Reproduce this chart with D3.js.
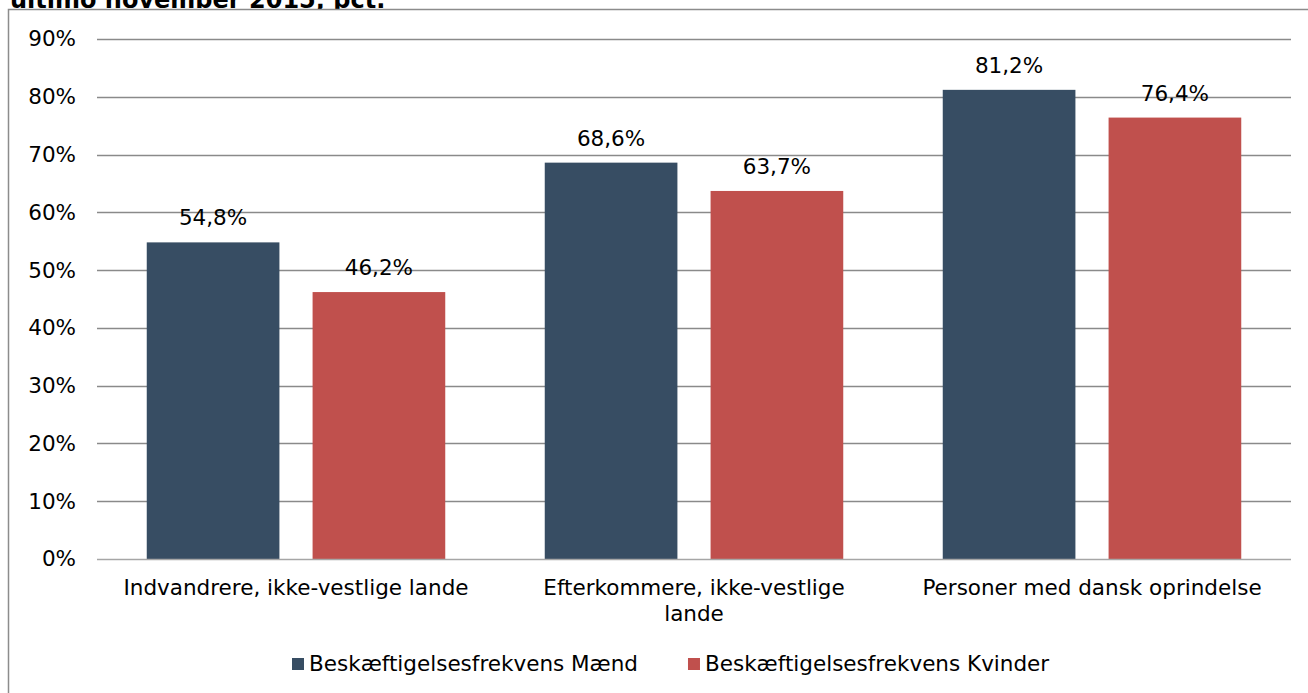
<!DOCTYPE html>
<html>
<head>
<meta charset="utf-8">
<script src="https://cdn.jsdelivr.net/npm/d3@7"></script>
<style>
  html, body { margin: 0; padding: 0; background: #fff; overflow: hidden; }
  svg { display: block; font-family: "DejaVu Sans", Verdana, sans-serif; }
</style>
</head>
<body>
<svg id="chart"></svg>
<script>
// data
const categories = ["Indvandrere, ikke-vestlige lande", "Efterkommere, ikke-vestlige lande", "Personer med dansk oprindelse"];
const seriesNames = ["Beskæftigelsesfrekvens Mænd", "Beskæftigelsesfrekvens Kvinder"];
const maendValues = [0.548, 0.686, 0.812];
const kvinderValues = [0.462, 0.637, 0.764];
const yTicks = [0, 0.1, 0.2, 0.3, 0.4, 0.5, 0.6, 0.7, 0.8, 0.9];
const titleText = "ultimo november 2015, pct.";

const colors = ["#374D63", "#C0504D"];
const fontSize = 21.5;

const width = 1308, height = 693;
const svg = d3.select("#chart").attr("width", width).attr("height", height);

// danish number format (comma decimal)
const da = d3.formatLocale({ decimal: ",", thousands: ".", grouping: [3], currency: ["", " kr."] });
const pct1 = da.format(".1%");
const pct0 = da.format(".0%");

// title, clipped at top (second line of a longer title)
svg.append("text")
    .attr("x", 10).attr("y", 8)
    .attr("font-weight", "bold")
    .attr("font-size", 24)
    .attr("fill", "#000")
    .text(titleText);

// frame (chart area border, runs off the right/bottom)
svg.append("rect")
    .attr("x", 8.5).attr("y", 9.5)
    .attr("width", width + 20).attr("height", height + 20)
    .attr("fill", "#fff")
    .attr("stroke", "#8c8c8c")
    .attr("stroke-width", 1.5);

// scales
const x0 = d3.scaleBand().domain(categories).range([97, 1291]).paddingInner(0).paddingOuter(0);
const x1 = d3.scaleBand().domain(seriesNames).range([0, x0.bandwidth()]).paddingInner(0.2).paddingOuter(0.3);
const y = d3.scaleLinear().domain([0, 0.9]).range([559, 39]);

// gridlines
svg.append("g")
    .selectAll("line")
    .data(yTicks.filter(d => d > 0))
    .join("line")
    .attr("x1", 97).attr("x2", 1291)
    .attr("y1", d => Math.round(y(d)) + 0.5)
    .attr("y2", d => Math.round(y(d)) + 0.5)
    .attr("stroke", "#8a8a8a")
    .attr("stroke-width", 1.3);

// y axis labels
const yAxis = d3.axisLeft(y).tickValues(yTicks).tickFormat(pct0).tickSize(0).tickPadding(0);
const yg = svg.append("g").attr("transform", "translate(76,0)").call(yAxis);
yg.select(".domain").remove();
yg.selectAll("text")
    .attr("font-family", "DejaVu Sans, Verdana, sans-serif")
    .attr("font-size", fontSize)
    .attr("fill", "#000");

// bars
const rows = categories.map((c, i) => ({ cat: c, vals: [maendValues[i], kvinderValues[i]] }));

const groups = svg.append("g")
    .selectAll("g")
    .data(rows)
    .join("g")
    .attr("transform", d => `translate(${x0(d.cat)},0)`);

groups.selectAll("rect")
    .data(d => d.vals.map((v, j) => ({ key: seriesNames[j], v: v, j: j })))
    .join("rect")
    .attr("x", d => x1(d.key))
    .attr("width", x1.bandwidth())
    .attr("y", d => y(d.v))
    .attr("height", d => y(0) - y(d.v))
    .attr("fill", d => colors[d.j]);

// value labels
groups.selectAll("text.val")
    .data(d => d.vals.map((v, j) => ({ key: seriesNames[j], v: v })))
    .join("text")
    .attr("class", "val")
    .attr("x", d => x1(d.key) + x1.bandwidth() / 2)
    .attr("y", d => y(d.v) - 17)
    .attr("text-anchor", "middle")
    .attr("font-size", fontSize)
    .attr("fill", "#000")
    .text(d => pct1(d.v));

// x axis line (0%)
svg.append("line")
    .attr("x1", 97).attr("x2", 1291)
    .attr("y1", y(0) + 0.5).attr("y2", y(0) + 0.5)
    .attr("stroke", "#a6a6a6")
    .attr("stroke-width", 1.5);

// category labels with wrapping
const xAxis = d3.axisBottom(x0).tickSize(0).tickPadding(0);
const xg = svg.append("g").attr("transform", `translate(0,${y(0)})`).call(xAxis);
xg.select(".domain").remove();
xg.selectAll("text")
    .attr("font-family", "DejaVu Sans, Verdana, sans-serif")
    .attr("font-size", fontSize)
    .attr("fill", "#000")
    .attr("dy", null)
    .attr("y", 36)
    .call(wrap, 355);

function wrap(texts, maxWidth) {
    texts.each(function() {
        const t = d3.select(this);
        const words = t.text().split(/\s+/);
        const yy = t.attr("y");
        t.text(null);
        let line = [];
        let lineNo = 0;
        let tspan = t.append("tspan").attr("x", 0).attr("y", yy);
        for (const w of words) {
            line.push(w);
            tspan.text(line.join(" "));
            if (tspan.node().getComputedTextLength() > maxWidth && line.length > 1) {
                line.pop();
                tspan.text(line.join(" "));
                line = [w];
                lineNo++;
                tspan = t.append("tspan").attr("x", 0).attr("y", +yy + lineNo * 26).text(w);
            }
        }
    });
}

// legend
const legend = svg.append("g").attr("transform", "translate(292,658)");
let lx = 0;
seriesNames.forEach((name, i) => {
    const item = legend.append("g").attr("transform", `translate(${lx},0)`);
    item.append("rect")
        .attr("width", 12).attr("height", 12)
        .attr("fill", colors[i]);
    const t = item.append("text")
        .attr("x", 17).attr("y", 13)
        .attr("font-size", fontSize)
        .attr("fill", "#000")
        .text(name);
    lx += 17 + t.node().getComputedTextLength() + 50;
});
</script>
</body>
</html>
